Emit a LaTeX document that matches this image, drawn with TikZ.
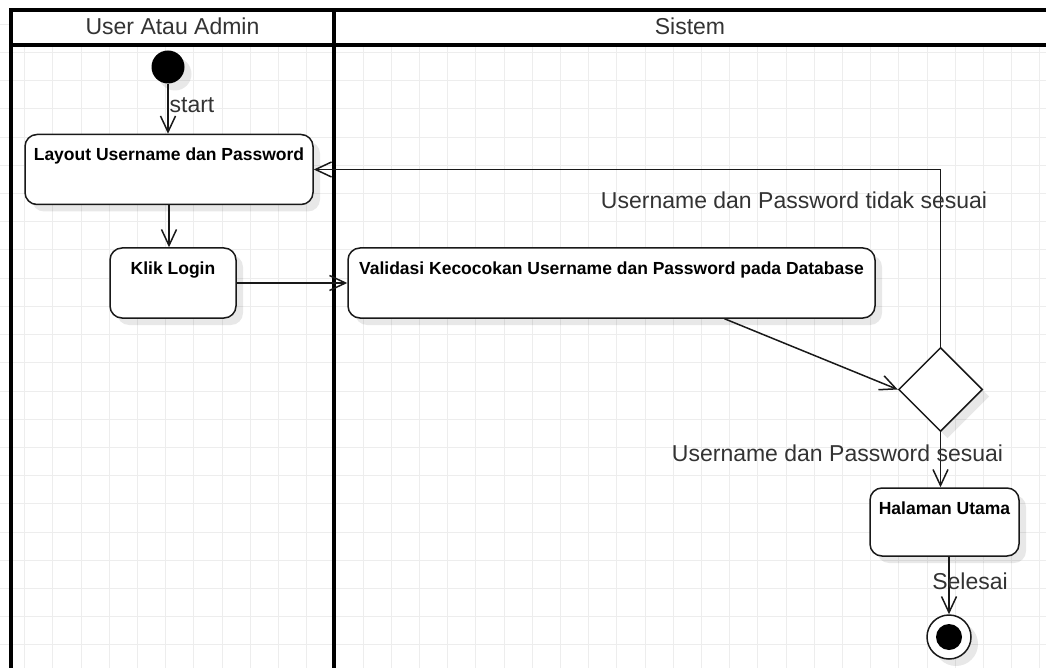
\documentclass[tikz,border=0pt]{standalone}
\usepackage{fontspec}
\setmainfont{Liberation Sans}
\usetikzlibrary{arrows.meta,shapes.geometric,shadows}

\begin{document}
\begin{tikzpicture}[x=1pt,y=-1pt,
    lane/.style={line width=3.5pt,line cap=rect},
    gridline/.style={draw=black!7,line width=1pt},
    boxshadow/.style={drop shadow={shadow xshift=7pt,shadow yshift=-7pt,fill=black,opacity=.09}},
    act/.style={draw=black!90,line width=1.5pt,fill=white,rounded corners=12pt,boxshadow,
      inner xsep=4pt,inner ysep=0pt,text height=26pt,text depth=44pt,
      font=\fontsize{17.5}{20}\selectfont\bfseries},
    choice/.style={diamond,aspect=1,draw=black!90,line width=1.5pt,fill=white,
      minimum size=84pt,inner sep=0pt,boxshadow},
    startdot/.style={circle,fill=black,minimum size=33pt,inner sep=0pt,boxshadow},
    enddot/.style={circle,draw=black!90,line width=1.5pt,fill=white,minimum size=44pt,inner sep=0pt,boxshadow},
    lbl/.style={anchor=base,text=black!80,inner sep=0pt,font=\fontsize{23}{27}\selectfont},
    flow/.style={draw=black!90,line width=1.5pt,-{Straight Barb[length=16pt,width=15pt]}}]
  \useasboundingbox (0,0) rectangle (1046,668);
  \foreach \k in {0,...,37}
    \draw[gridline] ({-3.5+28.2*\k},10) -- ({-3.5+28.2*\k},668);
  \foreach \k in {1,...,24}
    \draw[gridline] (0,{-3.8+28.2*\k}) -- (1046,{-3.8+28.2*\k});

  % swimlanes
  \draw[lane,fill=white] (11,10) rectangle (1052,45);
  \draw[lane] (11,10) -- (11,672) (334,10) -- (334,672);
  \node[lbl] (userlane) at (172.5,34.3) {User Atau Admin};
  \node[lbl] (syslane) at (690,34.3) {Sistem};

  \node[startdot] (init) at (168,67) {};
  \node[act,minimum width=288pt] (layout) at (169,169.5) {Layout Username dan Password};
  \node[act,minimum width=126pt] (klik) at (173,283) {Klik Login};
  \node[act,minimum width=527pt] (valid) at (611.5,283) {Validasi Kecocokan Username dan Password pada Database};
  \node[choice] (cek) at (940.5,389.5) {};
  \node[act,minimum width=149pt,text depth=42pt] (home) at (944.5,522) {Halaman Utama};
  \node[enddot] (fin) at (949,637) {};
  \fill (fin.center) circle[radius=13pt];

  \draw[flow] (init) -- (init |- layout.north);
  \draw[flow] (layout) -- (layout |- klik.north);
  \draw[flow] (klik) -- (valid);
  \draw[flow] ([xshift=113pt]valid.south) -- (cek.west);
  \draw[flow] (cek) |- (layout);
  \draw[flow] (cek) -- (cek |- home.north);
  \draw[flow] (fin |- home.south) -- (fin);

  \node[lbl] (startlbl) at (192,113) {start};
  \node[lbl] (nolbl) at (794,209) {Username dan Password tidak sesuai};
  \node[lbl] (yeslbl) at (837.5,461.5) {Username dan Password sesuai};
  \node[lbl] (endlbl) at (970,589) {Selesai};
\end{tikzpicture}
\end{document}
